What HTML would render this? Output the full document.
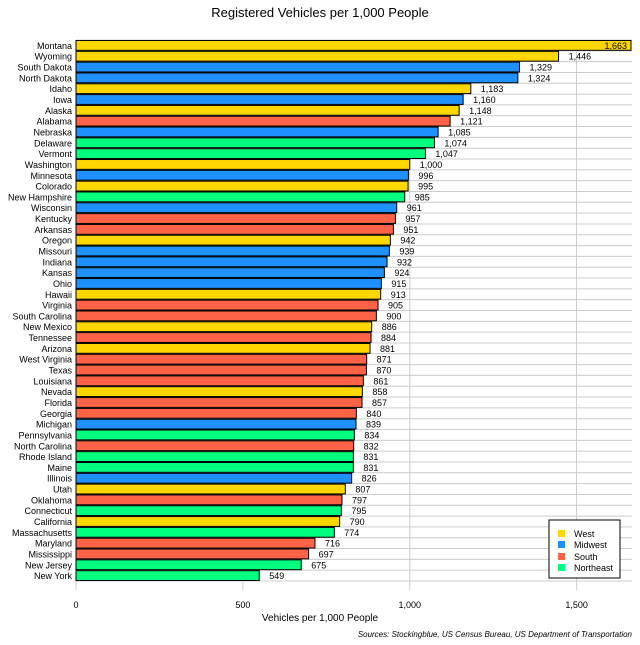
<!DOCTYPE html>
<html><head><meta charset="utf-8"><style>
body{margin:0;background:#fff;}
svg text{font-family:"Liberation Sans",sans-serif;}
</style></head><body>
<svg id="chart" width="640" height="640" xmlns="http://www.w3.org/2000/svg">
<rect width="640" height="640" fill="#fff"/>
<text x="320" y="17" text-anchor="middle" font-size="13">Registered Vehicles per 1,000 People</text>
<g id="grid"></g><g id="bars"></g><g id="labels"></g><g id="ticks"></g>
<text x="320" y="621" text-anchor="middle" font-size="10">Vehicles per 1,000 People</text>
<text x="632" y="637" text-anchor="end" font-size="8" font-style="italic">Sources: Stockingblue, US Census Bureau, US Department of Transportation</text>
<g>
<rect x="549" y="520" width="71" height="58" fill="#fff" stroke="#000" stroke-width="1"/>
<rect x="558" y="530" width="7" height="7" fill="#ffd700"/><text x="574" y="537" font-size="9">West</text>
<rect x="558" y="541" width="7" height="7" fill="#1e90ff"/><text x="574" y="548" font-size="9">Midwest</text>
<rect x="558" y="553" width="7" height="7" fill="#ff6347"/><text x="574" y="560" font-size="9">South</text>
<rect x="558" y="564" width="7" height="7" fill="#00ff7f"/><text x="574" y="571" font-size="9">Northeast</text>
</g>
</svg>
<script>
const states=["Montana","Wyoming","South Dakota","North Dakota","Idaho","Iowa","Alaska","Alabama","Nebraska","Delaware","Vermont","Washington","Minnesota","Colorado","New Hampshire","Wisconsin","Kentucky","Arkansas","Oregon","Missouri","Indiana","Kansas","Ohio","Hawaii","Virginia","South Carolina","New Mexico","Tennessee","Arizona","West Virginia","Texas","Louisiana","Nevada","Florida","Georgia","Michigan","Pennsylvania","North Carolina","Rhode Island","Maine","Illinois","Utah","Oklahoma","Connecticut","California","Massachusetts","Maryland","Mississippi","New Jersey","New York"];
const values=[1663,1446,1329,1324,1183,1160,1148,1121,1085,1074,1047,1000,996,995,985,961,957,951,942,939,932,924,915,913,905,900,886,884,881,871,870,861,858,857,840,839,834,832,831,831,826,807,797,795,790,774,716,697,675,549];
const regions=["W","W","M","M","W","M","W","S","M","N","N","W","M","W","N","M","S","S","W","M","M","M","M","W","S","S","W","S","W","S","S","S","W","S","S","M","N","S","N","N","M","W","S","N","W","N","S","S","N","N"];
const ticks=[0,500,1000,1500];
const colors={W:"#ffd700",M:"#1e90ff",S:"#ff6347",N:"#00ff7f"};
const X0=76,SC=555/1663,T=40,RH=541/50;
const x=v=>X0+v*SC, y=i=>T+i*RH;
const ns="http://www.w3.org/2000/svg";
function mk(t,a,p){const e=document.createElementNS(ns,t);for(const k in a)e.setAttribute(k,a[k]);p.appendChild(e);return e;}
const G=document.getElementById("grid"),B=document.getElementById("bars"),L=document.getElementById("labels"),K=document.getElementById("ticks");
for(let i=0;i<=states.length;i++){const l=mk("line",{x1:X0,x2:632,y1:y(i),y2:y(i),stroke:"#ccc","stroke-width":1},G);}
ticks.forEach(t=>{
const l=mk("line",{x1:x(t),x2:x(t),y1:T,y2:590,stroke:"#ccc","stroke-width":1},G);

const tx=mk("text",{x:x(t),y:608,"text-anchor":"middle","font-size":"9"},K);

tx.textContent=t.toLocaleString("en-US");});
states.forEach((s,i)=>{
const r=mk("rect",{x:X0,y:y(i)+0.5,width:values[i]*SC,height:RH-1,fill:colors[regions[i]],stroke:"#000","stroke-width":1},B);

const n=mk("text",{x:72,y:y(i)+RH/2+3.5,"text-anchor":"end","font-size":"9"},L);
n.textContent=s;
const inside=x(values[i])+30>636;
const v=mk("text",{x:inside?x(values[i])-4:x(values[i])+10,y:y(i)+RH/2+3.5,"text-anchor":inside?"end":"start","font-size":"9"},L);
v.textContent=values[i].toLocaleString("en-US");
});
</script>
</body></html>
